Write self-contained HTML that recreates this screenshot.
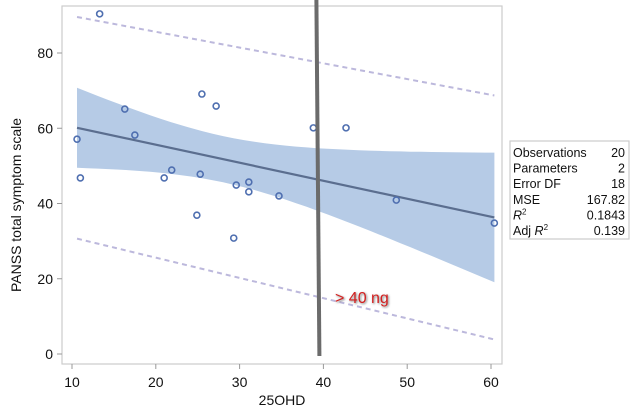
<!DOCTYPE html>
<html><head><meta charset="utf-8"><style>
body{margin:0;background:#fff;width:638px;height:409px;overflow:hidden;font-family:"Liberation Sans",sans-serif}
svg text{font-family:"Liberation Sans",sans-serif}
</style></head><body>
<svg id="c" width="638" height="409"></svg>
<script>
const xs=[10.6,11.0,13.3,16.3,17.5,21.0,21.9,25.3,25.5,24.9,27.2,29.3,29.6,31.1,31.1,34.7,38.8,42.7,48.7,60.4];
const ys=[57.1,46.8,90.4,65.1,58.2,46.8,48.9,47.8,69.1,36.9,65.9,30.8,44.9,45.7,43.1,42.0,60.1,60.1,40.9,34.8];
const xTicks=[10,20,30,40,50,60];
const yTicks=[0,20,40,60,80];
const statLabels=["Observations","Parameters","Error DF","MSE","R2","Adj R2"];
const statValues=["20","2","18","167.82","0.1843","0.139"];
const cutoff=[40];
const NS="http://www.w3.org/2000/svg";
const svg=document.getElementById('c');
const X=v=>72+(v-10)*8.38, Y=v=>354-v*3.7625;
function mk(t,a,p){const e=document.createElementNS(NS,t);for(const k in a)e.setAttribute(k,a[k]);(p||svg).appendChild(e);return e;}
let fr=mk('rect',{x:62,y:6,width:440,height:358,fill:'#fff',stroke:'#ccc','stroke-width':1.2});

const n=xs.length,mx=xs.reduce((a,b)=>a+b)/n,my=ys.reduce((a,b)=>a+b)/n;
let sxx=0,sxy=0;xs.forEach((x,i)=>{sxx+=(x-mx)**2;sxy+=(x-mx)*(ys[i]-my);});
const b=sxy/sxx,a=my-b*mx;let sse=0;xs.forEach((x,i)=>{sse+=(ys[i]-a-b*x)**2;});
const mse=sse/(n-2),t=2.101;
const x0=Math.min(...xs),x1=Math.max(...xs);
let up=[],lo=[];
for(let k=0;k<=40;k++){const x=x0+(x1-x0)*k/40,f=a+b*x;const se=Math.sqrt(mse*(1/n+(x-mx)**2/sxx));
up.push([X(x),Y(f+t*se)]);lo.push([X(x),Y(f-t*se)]);}
const sp0=t*Math.sqrt(mse*(1+1/n+(x0-mx)**2/sxx)),sp1=t*Math.sqrt(mse*(1+1/n+(x1-mx)**2/sxx));
const pts=arr=>arr.map(p=>p[0].toFixed(1)+','+p[1].toFixed(1)).join(' ');
let band=mk('polygon',{points:pts(up)+' '+pts(lo.slice().reverse()),fill:'#b6cbe6'});

let l1=mk('line',{x1:X(x0),y1:Y(a+b*x0+sp0),x2:X(x1),y2:Y(a+b*x1+sp1),stroke:'#bcb8dc','stroke-width':2,'stroke-dasharray':'5,4'});

let l2=mk('line',{x1:X(x0),y1:Y(a+b*x0-sp0),x2:X(x1),y2:Y(a+b*x1-sp1),stroke:'#bcb8dc','stroke-width':2,'stroke-dasharray':'5,4'});

let fl=mk('line',{x1:X(x0),y1:Y(a+b*x0),x2:X(x1),y2:Y(a+b*x1),stroke:'#5b6e8f','stroke-width':2.2});

xs.forEach((x,i)=>{let c=mk('circle',{cx:X(x),cy:Y(ys[i]),r:3,fill:'none',stroke:'#4f6fb0','stroke-width':1.6});
});
xTicks.forEach(v=>{let l=mk('line',{x1:X(v),y1:364,x2:X(v),y2:369,stroke:'#999'});
let tx=mk('text',{x:X(v),y:387,'font-size':14,'text-anchor':'middle',fill:'#111'});tx.textContent=v;});
yTicks.forEach(v=>{let l=mk('line',{x1:57,y1:Y(v),x2:62,y2:Y(v),stroke:'#999'});
let tx=mk('text',{x:53,y:Y(v)+5,'font-size':14,'text-anchor':'end',fill:'#111'});tx.textContent=v;});
let xt=mk('text',{x:282,y:405,'font-size':14,'text-anchor':'middle',fill:'#111'});xt.textContent='25OHD';
let yt=mk('text',{x:0,y:0,'font-size':14,'text-anchor':'middle',fill:'#111',transform:'translate(21,205) rotate(-90)'});yt.textContent='PANSS total symptom scale';
let cl=mk('line',{x1:X(cutoff[0])-7,y1:0,x2:X(cutoff[0])-4,y2:356,stroke:'#6b6b6b','stroke-width':4});

let ct=mk('text',{x:335,y:303,'font-size':16,fill:'#d42020',style:'text-shadow:1px 1px 2px #777'});ct.textContent='> 40 ng';

let g=mk('g',{});
mk('rect',{x:510,y:141,width:119,height:98,fill:'#fff',stroke:'#ccc','stroke-width':1.2},g);
statLabels.forEach((s,i)=>{const yy=157+i*15.6;
let tl=mk('text',{x:513,y:yy,'font-size':12.5,fill:'#111'},g);
if(s==='R2'){tl.innerHTML='<tspan font-style="italic">R</tspan><tspan font-size="8" dy="-5">2</tspan>';}
else if(s==='Adj R2'){tl.innerHTML='Adj <tspan font-style="italic">R</tspan><tspan font-size="8" dy="-5">2</tspan>';}
else tl.textContent=s;

let tv=mk('text',{x:625,y:yy,'font-size':12.5,'text-anchor':'end',fill:'#111'},g);tv.textContent=statValues[i];
});
</script>
</body></html>
